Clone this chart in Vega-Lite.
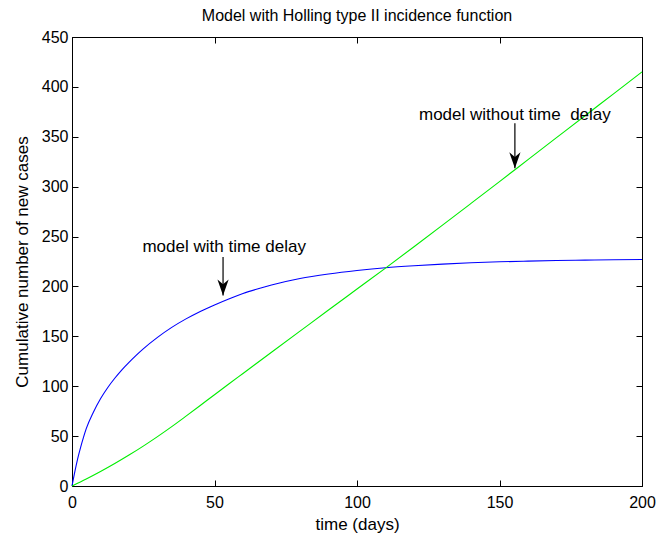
{
  "$schema": "https://vega.github.io/schema/vega-lite/v6.json",
  "autosize": {"type": "none"},
  "width": 570,
  "height": 449,
  "padding": {"left": 72, "top": 37, "right": 17, "bottom": 49},
  "background": "white",
  "config": {
    "font": "Liberation Sans",
    "view": {"stroke": "black", "strokeWidth": 1},
    "axis": {
      "grid": false,
      "domainColor": "black",
      "tickColor": "black",
      "labelColor": "black",
      "titleColor": "black",
      "labelFont": "Liberation Sans",
      "titleFont": "Liberation Sans",
      "labelFontSize": 16,
      "titleFontSize": 17,
      "titleFontWeight": "normal",
      "tickSize": -6,
      "tickWidth": 1
    }
  },
  "title": {
    "text": "Model with Holling type II incidence function",
    "font": "Liberation Sans",
    "fontSize": 16,
    "fontWeight": "normal",
    "color": "black",
    "offset": 5
  },
  "datasets": {
    "curves": [
      {"t": 0, "v": 0, "model": "with delay"},
      {"t": 1, "v": 14.5, "model": "with delay"},
      {"t": 2, "v": 27.5, "model": "with delay"},
      {"t": 3, "v": 38.5, "model": "with delay"},
      {"t": 4, "v": 48.5, "model": "with delay"},
      {"t": 5, "v": 57.5, "model": "with delay"},
      {"t": 7.5, "v": 74, "model": "with delay"},
      {"t": 10, "v": 87.5, "model": "with delay"},
      {"t": 12.5, "v": 98.5, "model": "with delay"},
      {"t": 15, "v": 108, "model": "with delay"},
      {"t": 17.5, "v": 116.5, "model": "with delay"},
      {"t": 20, "v": 124, "model": "with delay"},
      {"t": 22.5, "v": 131, "model": "with delay"},
      {"t": 25, "v": 137.5, "model": "with delay"},
      {"t": 30, "v": 149, "model": "with delay"},
      {"t": 35, "v": 159, "model": "with delay"},
      {"t": 40, "v": 167.5, "model": "with delay"},
      {"t": 45, "v": 175, "model": "with delay"},
      {"t": 50, "v": 181.5, "model": "with delay"},
      {"t": 55, "v": 187.5, "model": "with delay"},
      {"t": 60, "v": 193, "model": "with delay"},
      {"t": 65, "v": 197.5, "model": "with delay"},
      {"t": 70, "v": 201.5, "model": "with delay"},
      {"t": 75, "v": 205, "model": "with delay"},
      {"t": 80, "v": 208, "model": "with delay"},
      {"t": 90, "v": 212.5, "model": "with delay"},
      {"t": 100, "v": 216, "model": "with delay"},
      {"t": 110, "v": 218.8, "model": "with delay"},
      {"t": 120, "v": 220.8, "model": "with delay"},
      {"t": 130, "v": 222.4, "model": "with delay"},
      {"t": 140, "v": 223.7, "model": "with delay"},
      {"t": 150, "v": 224.7, "model": "with delay"},
      {"t": 160, "v": 225.4, "model": "with delay"},
      {"t": 170, "v": 226, "model": "with delay"},
      {"t": 180, "v": 226.4, "model": "with delay"},
      {"t": 190, "v": 226.8, "model": "with delay"},
      {"t": 200, "v": 227, "model": "with delay"},
      {"t": 0, "v": 0, "model": "without delay"},
      {"t": 5, "v": 7, "model": "without delay"},
      {"t": 10, "v": 14.5, "model": "without delay"},
      {"t": 15, "v": 22.5, "model": "without delay"},
      {"t": 20, "v": 31, "model": "without delay"},
      {"t": 25, "v": 40, "model": "without delay"},
      {"t": 30, "v": 49.5, "model": "without delay"},
      {"t": 35, "v": 59.5, "model": "without delay"},
      {"t": 40, "v": 70, "model": "without delay"},
      {"t": 45, "v": 80.7, "model": "without delay"},
      {"t": 50, "v": 91.5, "model": "without delay"},
      {"t": 55, "v": 102.2, "model": "without delay"},
      {"t": 60, "v": 112.8, "model": "without delay"},
      {"t": 70, "v": 134, "model": "without delay"},
      {"t": 80, "v": 155.2, "model": "without delay"},
      {"t": 90, "v": 176.4, "model": "without delay"},
      {"t": 100, "v": 197.4, "model": "without delay"},
      {"t": 110, "v": 218.4, "model": "without delay"},
      {"t": 120, "v": 239.8, "model": "without delay"},
      {"t": 130, "v": 261.4, "model": "without delay"},
      {"t": 140, "v": 283.2, "model": "without delay"},
      {"t": 150, "v": 305.1, "model": "without delay"},
      {"t": 160, "v": 327.1, "model": "without delay"},
      {"t": 170, "v": 349.1, "model": "without delay"},
      {"t": 180, "v": 371.1, "model": "without delay"},
      {"t": 190, "v": 393, "model": "without delay"},
      {"t": 200, "v": 415, "model": "without delay"}
    ],
    "notes": [
      {"label": "model with time delay", "t": 53.4, "v": 239.5, "arrow_t": 53, "arrow_from": 229.5, "arrow_to": 191},
      {"label": "model without time\u00a0 delay", "t": 155.4, "v": 371.6, "arrow_t": 155.4, "arrow_from": 363.5, "arrow_to": 318.5}
    ]
  },
  "resolve": {"axis": {"x": "independent", "y": "independent"}},
  "layer": [
    {
      "data": {"name": "curves"},
      "mark": {"type": "line", "strokeWidth": 1.1, "interpolate": "monotone"},
      "encoding": {
        "x": {
          "field": "t", "type": "quantitative",
          "scale": {"domain": [0, 200], "nice": false, "zero": false},
          "axis": {"title": "time (days)", "values": [0, 50, 100, 150, 200], "labelPadding": 14, "titlePadding": 6, "labelFlush": false}
        },
        "y": {
          "field": "v", "type": "quantitative",
          "scale": {"domain": [0, 450], "nice": false},
          "axis": {"title": "Cumulative number of new cases", "values": [0, 50, 100, 150, 200, 250, 300, 350, 400, 450], "labelPadding": 10, "titlePadding": 10}
        },
        "color": {
          "field": "model", "type": "nominal",
          "scale": {"domain": ["with delay", "without delay"], "range": ["#0000ff", "#00ee00"]},
          "legend": null
        },
        "detail": {"field": "model"}
      }
    },
    {
      "data": {"name": "notes"},
      "mark": {"type": "rule", "color": "black", "strokeWidth": 1.2},
      "encoding": {
        "x": {"field": "arrow_t", "type": "quantitative", "axis": {"orient": "top", "labels": false, "title": null, "domain": false, "values": [0, 50, 100, 150, 200]}},
        "y": {"field": "arrow_from", "type": "quantitative", "axis": {"orient": "right", "labels": false, "title": null, "domain": false, "values": [0, 50, 100, 150, 200, 250, 300, 350, 400, 450]}},
        "y2": {"field": "arrow_to"}
      }
    },
    {
      "data": {"name": "notes"},
      "mark": {"type": "point", "filled": true, "color": "black", "opacity": 1, "size": 256, "strokeWidth": 0,
        "shape": "M0,0 L-0.7,-2 L0,-1.4 L0.7,-2 Z"},
      "encoding": {
        "x": {"field": "arrow_t", "type": "quantitative", "axis": null},
        "y": {"field": "arrow_to", "type": "quantitative", "axis": null}
      }
    },
    {
      "data": {"name": "notes"},
      "mark": {"type": "text", "font": "Liberation Sans", "fontSize": 17, "color": "black", "align": "center", "baseline": "middle"},
      "encoding": {
        "x": {"field": "t", "type": "quantitative", "axis": null},
        "y": {"field": "v", "type": "quantitative", "axis": null},
        "text": {"field": "label"}
      }
    }
  ]
}
